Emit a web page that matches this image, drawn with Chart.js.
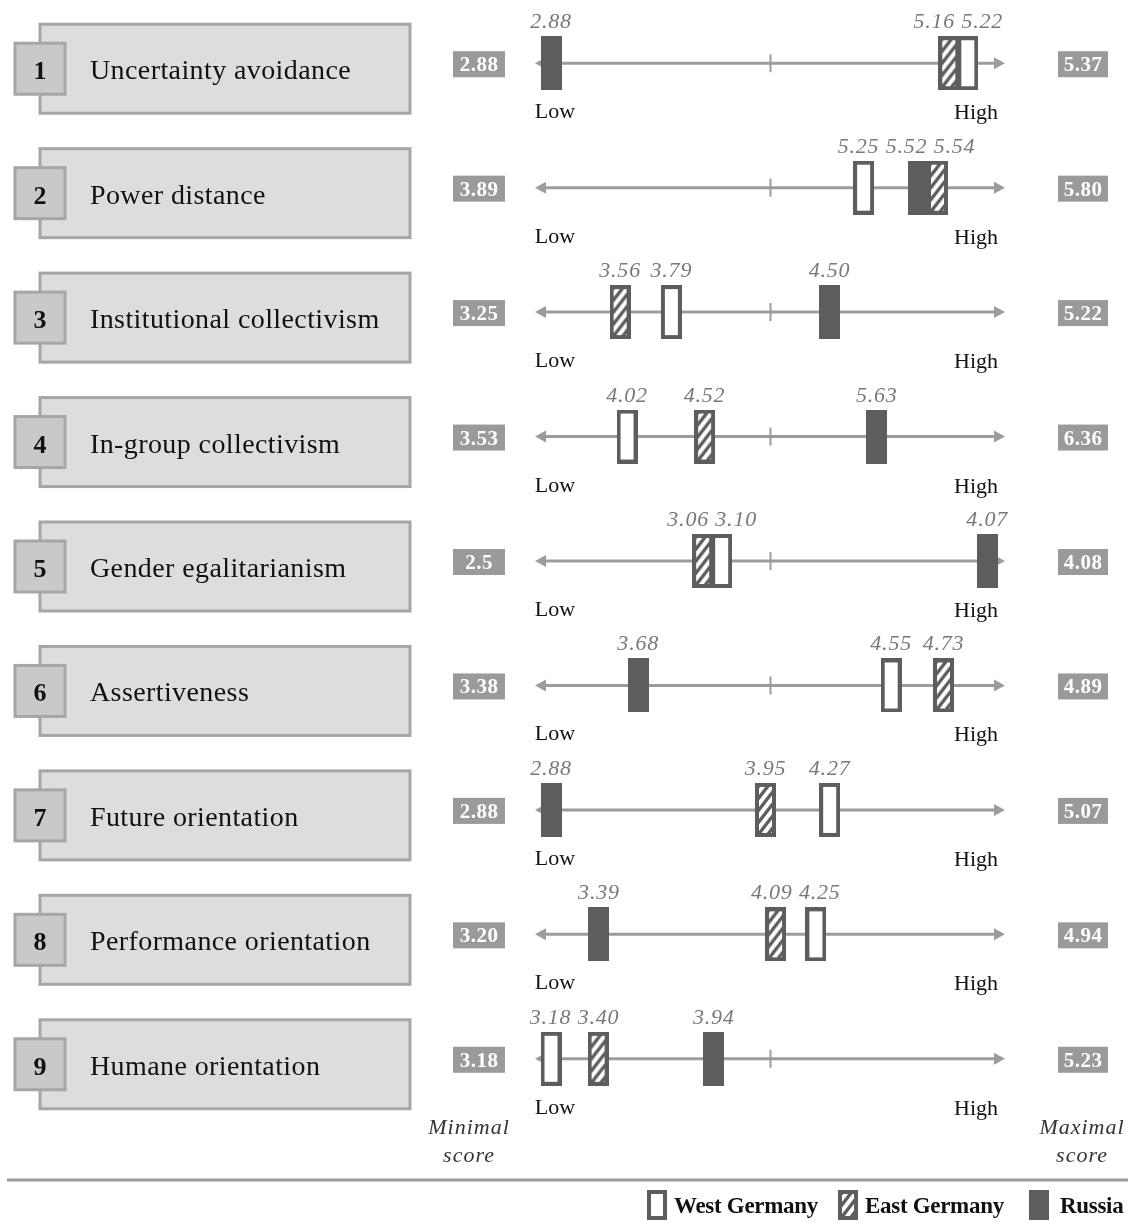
<!DOCTYPE html>
<html>
<head>
<meta charset="utf-8">
<style>
  html, body { margin: 0; padding: 0; background: #fff; }
  canvas { display: block; }
</style>
<script src="https://cdn.jsdelivr.net/npm/chart.js@4.4.1/dist/chart.umd.min.js"></script>
</head>
<body>
<canvas id="chart" width="1128" height="1223"></canvas>
<script>
// GLOBE cultural dimensions, practices scores
const dimensions = [
  "Uncertainty avoidance", "Power distance", "Institutional collectivism",
  "In-group collectivism", "Gender egalitarianism", "Assertiveness",
  "Future orientation", "Performance orientation", "Humane orientation"
]
const minLabels = ["2.88", "3.89", "3.25", "3.53", "2.5", "3.38", "2.88", "3.20", "3.18"]
const maxLabels = ["5.37", "5.80", "5.22", "6.36", "4.08", "4.89", "5.07", "4.94", "5.23"]
const westGermany = [5.22, 5.25, 3.79, 4.02, 3.10, 4.55, 4.27, 4.25, 3.18]
const eastGermany = [5.16, 5.54, 3.56, 4.52, 3.06, 4.73, 3.95, 4.09, 3.40]
const russia = [2.88, 5.52, 4.50, 5.63, 4.07, 3.68, 2.88, 3.39, 3.94]
const countries = ["West Germany", "East Germany", "Russia"]

const DARK = "#5d5d5d"
const AXIS = "#9c9c9c"
const SERIF = "'Liberation Serif', 'Times New Roman', serif"

function makeMarker(kind, w, h) {
  const c = document.createElement("canvas")
  c.width = w
  c.height = h
  const g = c.getContext("2d")
  const b = 4
  g.fillStyle = DARK
  g.fillRect(0, 0, w, h)
  if (kind === "fill") return c
  g.fillStyle = "#fff"
  g.fillRect(b, b, w - 2 * b, h - 2 * b)
  if (kind === "hatch") {
    g.save()
    g.beginPath()
    g.rect(b, b, w - 2 * b, h - 2 * b)
    g.clip()
    g.fillStyle = DARK
    g.fillRect(b, b, w - 2 * b, h - 2 * b)
    g.strokeStyle = "#fff"
    g.lineWidth = 4
    g.beginPath()
    for (let y0 = -10; y0 < h + 40; y0 += 12) {
      g.moveTo(0, y0)
      g.lineTo(w, y0 - w * 1.3)
    }
    g.stroke()
    g.restore()
  }
  return c
}

const markerImgs = [makeMarker("open", 21, 54), makeMarker("hatch", 21, 54), makeMarker("fill", 21, 54)]
const legendImgs = [makeMarker("open", 20, 30), makeMarker("hatch", 20, 30), makeMarker("fill", 20, 30)]

// push overlapping items apart symmetrically, keeping clusters centred
function dodge(targets, gap) {
  const order = targets.map((v, i) => i).sort((a, b) => targets[a] - targets[b])
  let groups = order.map(i => ({ members: [i], center: targets[i] }))
  let merged = true
  while (merged) {
    merged = false
    for (let k = 0; k < groups.length - 1; k++) {
      const a = groups[k], b = groups[k + 1]
      const aRight = a.center + (a.members.length - 1) * gap / 2
      const bLeft = b.center - (b.members.length - 1) * gap / 2
      if (bLeft - aRight < gap) {
        const members = a.members.concat(b.members)
        const center = members.reduce((s, m) => s + targets[m], 0) / members.length
        groups.splice(k, 2, { members, center })
        merged = true
        break
      }
    }
  }
  const out = []
  groups.forEach(g => g.members.forEach((m, j) => {
    out[m] = g.center + (j - (g.members.length - 1) / 2) * gap
  }))
  return out
}

const scales = {
  y: { type: "linear", min: -0.5, max: 8.5, reverse: true, display: false }
}
dimensions.forEach((d, i) => {
  scales["x" + i] = {
    type: "linear", axis: "x", position: "bottom", display: false,
    min: parseFloat(minLabels[i]), max: parseFloat(maxLabels[i])
  }
})

const datasets = dimensions.map((d, i) => ({
  label: d,
  xAxisID: "x" + i,
  yAxisID: "y",
  data: [
    { x: westGermany[i], y: i },
    { x: eastGermany[i], y: i },
    { x: russia[i], y: i }
  ],
  pointStyle: markerImgs,
  pointRadius: 10,
  clip: false
}))

function text(ctx, str, x, y, font, color, align, spacing) {
  ctx.font = font
  ctx.fillStyle = color
  ctx.textAlign = align || "left"
  ctx.textBaseline = "alphabetic"
  ctx.letterSpacing = (spacing || 0) + "px"
  ctx.fillText(str, x, y)
  ctx.letterSpacing = "0px"
}

const decorations = {
  id: "decorations",
  beforeDraw(chart) {
    const ctx = chart.ctx
    ctx.save()
    ctx.fillStyle = "#fff"
    ctx.fillRect(0, 0, chart.width, chart.height)
    ctx.restore()
  },
  afterDatasetsUpdate(chart) {
    chart.data.datasets.forEach((ds, i) => {
      const pts = chart.getDatasetMeta(i).data
      const xs = dodge(pts.map(p => p.x), 19)
      pts.forEach((p, j) => { p.x = xs[j] })
    })
  },
  beforeDatasetsDraw(chart) {
    const ctx = chart.ctx
    const ys = chart.scales.y
    ctx.save()
    dimensions.forEach((name, i) => {
      const cy = ys.getPixelForValue(i)
      const xs = chart.scales["x" + i]

      // label box with number tab
      ctx.lineWidth = 3
      ctx.strokeStyle = "#a6a6a6"
      ctx.fillStyle = "#dddddd"
      ctx.fillRect(40, cy - 39, 370, 89)
      ctx.strokeRect(40, cy - 39, 370, 89)
      ctx.fillStyle = "#c9c9c9"
      ctx.fillRect(15, cy - 20, 50, 51)
      ctx.strokeRect(15, cy - 20, 50, 51)
      text(ctx, String(i + 1), 40, cy + 16, "bold 26px " + SERIF, "#111", "center")
      text(ctx, name, 90, cy + 16, "28px " + SERIF, "#111", "left", 0.4)

      // min and max score boxes
      ctx.fillStyle = "#9a9a9a"
      ctx.fillRect(453, cy - 12, 52, 26)
      ctx.fillRect(1058, cy - 12, 50, 26)
      text(ctx, minLabels[i], 479, cy + 8, "bold 21px " + SERIF, "#fff", "center", 0.5)
      text(ctx, maxLabels[i], 1083, cy + 8, "bold 21px " + SERIF, "#fff", "center", 0.5)

      // axis with arrows and middle tick
      const x0 = xs.left - 16, x1 = xs.right + 15
      ctx.strokeStyle = AXIS
      ctx.fillStyle = AXIS
      ctx.lineWidth = 3
      ctx.beginPath()
      ctx.moveTo(x0 + 8, cy)
      ctx.lineTo(x1 - 8, cy)
      ctx.stroke()
      ctx.beginPath()
      ctx.moveTo(x0, cy)
      ctx.lineTo(x0 + 11, cy - 6)
      ctx.lineTo(x0 + 11, cy + 6)
      ctx.closePath()
      ctx.fill()
      ctx.beginPath()
      ctx.moveTo(x1, cy)
      ctx.lineTo(x1 - 11, cy - 6)
      ctx.lineTo(x1 - 11, cy + 6)
      ctx.closePath()
      ctx.fill()
      const mid = (xs.left + xs.right) / 2
      ctx.lineWidth = 2
      ctx.beginPath()
      ctx.moveTo(mid, cy - 9)
      ctx.lineTo(mid, cy + 9)
      ctx.stroke()

      text(ctx, "Low", xs.left + 4, cy + 55, "22px " + SERIF, "#111", "center")
      text(ctx, "High", xs.right - 14, cy + 56, "22px " + SERIF, "#111", "center")
    })
    ctx.restore()
  },
  afterDatasetsDraw(chart) {
    const ctx = chart.ctx
    ctx.save()
    chart.data.datasets.forEach((ds, i) => {
      const pts = chart.getDatasetMeta(i).data
      const lx = dodge(pts.map(p => p.x), 48)
      ds.data.forEach((d, j) => {
        text(ctx, d.x.toFixed(2), lx[j], pts[j].y - 35, "italic 22px " + SERIF, "#787878", "center", 0.8)
      })
    })

    const fontNote = "italic 22px " + SERIF
    text(ctx, "Minimal", 469, 1134, fontNote, "#333", "center", 1)
    text(ctx, "score", 469, 1162, fontNote, "#333", "center", 1)
    text(ctx, "Maximal", 1082, 1134, fontNote, "#333", "center", 1)
    text(ctx, "score", 1082, 1162, fontNote, "#333", "center", 1)

    ctx.strokeStyle = AXIS
    ctx.lineWidth = 3
    ctx.beginPath()
    ctx.moveTo(7, 1180)
    ctx.lineTo(1128, 1180)
    ctx.stroke()

    // legend
    const legendX = [647, 838, 1029]
    countries.forEach((c, k) => {
      ctx.drawImage(legendImgs[k], legendX[k], 1190)
      text(ctx, c, legendX[k] + (k === 2 ? 31 : 27), 1213, "bold 23px " + SERIF, "#111", "left", -0.3)
    })
    ctx.restore()
  }
}

new Chart(document.getElementById("chart"), {
  type: "scatter",
  data: { datasets },
  options: {
    responsive: false,
    animation: false,
    events: [],
    devicePixelRatio: 1,
    layout: { autoPadding: false, padding: { left: 551, right: 138, top: 1, bottom: 102 } },
    scales,
    plugins: {
      legend: { display: false },
      tooltip: { enabled: false }
    }
  },
  plugins: [decorations]
})
</script>
</body>
</html>
